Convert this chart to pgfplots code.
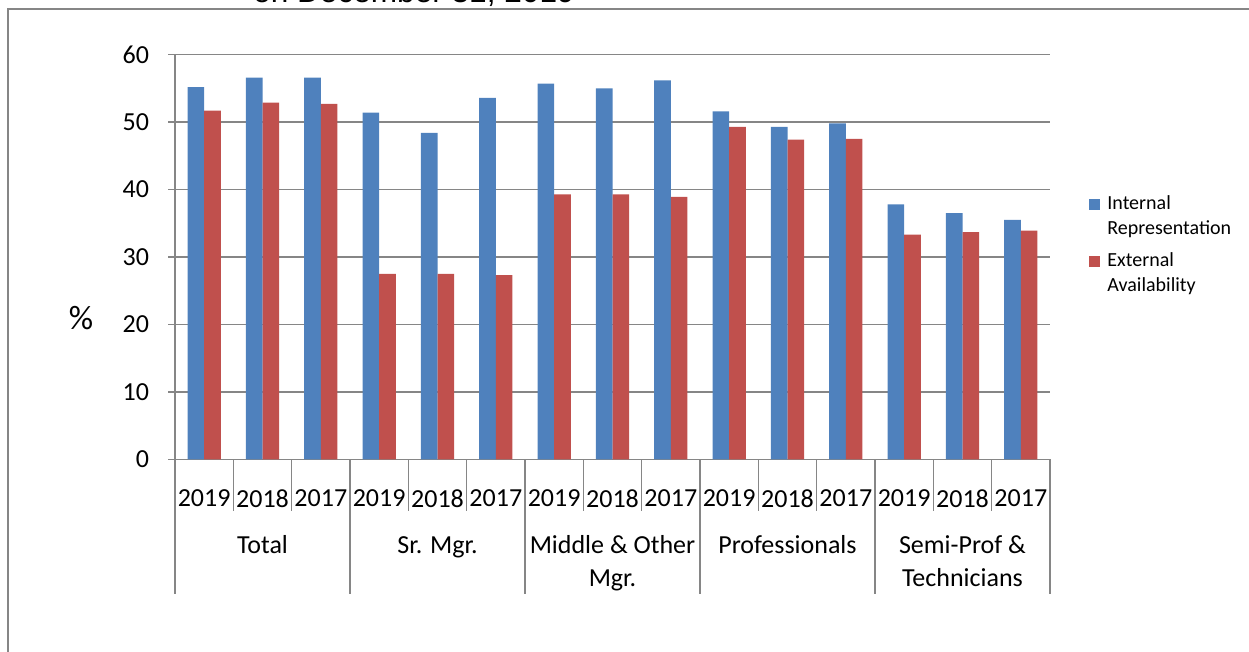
\documentclass[border=0pt]{standalone}
\usepackage{fontspec}
\setmainfont{Carlito}
\newfontfamily\titlefont{Liberation Sans}
\usepackage{pgfplots}
\pgfplotsset{compat=1.18}
\definecolor{irblue}{HTML}{4F81BD}
\definecolor{eared}{HTML}{C0504D}
\definecolor{gridgray}{HTML}{868686}

\begin{document}
\begin{tikzpicture}
\useasboundingbox (0,0) rectangle (624.5pt,326pt);
\begin{scope}
\clip (0,0) rectangle (624.5pt,326pt);
% outer chart frame (partly outside the picture)
\draw[gridgray, line width=0.6pt] (4pt,-5pt) -- (4pt,321.5pt) -- (630pt,321.5pt);
% title, cut off at the top edge
\node[anchor=base, inner sep=0pt, font=\titlefont\fontsize{15.8}{18}\selectfont] at (207pt,324.5pt) {on December 31, 2019};
\end{scope}

\begin{axis}[
  at={(87.5pt,96.35pt)}, anchor=south west,
  scale only axis, width=437.5pt, height=202.3pt,
  xmin=-0.5, xmax=14.5, ymin=0, ymax=60,
  axis lines*=left,
  axis line style={gridgray, line width=0.75pt},
  ytick={0,10,...,60},
  ymajorgrids, grid style={gridgray, line width=0.75pt},
  ytick style={gridgray, line width=0.75pt},
  tick align=outside, major tick length=3.5pt,
  xtick={0,...,14}, xtick style={draw=none},
  xticklabels={2019,2018,2017,2019,2018,2017,2019,2018,2017,2019,2018,2017,2019,2018,2017},
  tick label style={font=\fontsize{13}{15}\selectfont},
  /pgf/number format/assume math mode=true,
  xticklabel style={yshift=-8pt},
  yticklabel style={xshift=-6pt},
  ybar=0pt, bar width=8.33pt,
]
% Internal Representation
\addplot[fill=irblue, draw=none] coordinates {
  (0,55.2) (1,56.6) (2,56.6)
  (3,51.4) (4,48.4) (5,53.6)
  (6,55.7) (7,55.0) (8,56.2)
  (9,51.6) (10,49.3) (11,49.8)
  (12,37.8) (13,36.5) (14,35.5)
};
% External Availability
\addplot[fill=eared, draw=none] coordinates {
  (0,51.7) (1,52.9) (2,52.7)
  (3,27.5) (4,27.5) (5,27.3)
  (6,39.3) (7,39.3) (8,38.9)
  (9,49.3) (10,47.4) (11,47.5)
  (12,33.3) (13,33.7) (14,33.9)
};
\end{axis}

% category separators
\foreach \i in {1,2,4,5,7,8,10,11,13,14}
  \draw[gridgray, line width=0.75pt] ({(87.5+\i*29.16667)*1pt},96.35pt) -- ++(0,-26pt);
\foreach \i in {0,3,6,9,12,15}
  \draw[gridgray, line width=0.75pt] ({(87.5+\i*29.16667)*1pt},96.35pt) -- ++(0,-67.5pt);

% group labels
\begin{scope}[every node/.style={anchor=base, inner sep=0pt, font=\fontsize{13}{15}\selectfont}]
\node at (131.25pt,49pt) {Total};
\node at (218.75pt,49pt) {Sr. Mgr.};
\node at (306.25pt,49pt) {Middle \& Other};
\node at (306.25pt,32.5pt) {Mgr.};
\node at (393.75pt,49pt) {Professionals};
\node at (481.25pt,49pt) {Semi-Prof \&};
\node at (481.25pt,32.5pt) {Technicians};
\end{scope}

% y label
\node[font=\fontsize{17}{19}\selectfont] at (40.5pt,167pt) {\%};

% legend
\fill[irblue] (544.5pt,221pt) rectangle (550pt,226.5pt);
\fill[eared] (544.5pt,192.5pt) rectangle (550pt,198pt);
\begin{scope}[every node/.style={anchor=base west, inner sep=0pt, font=\fontsize{10}{12}\selectfont}]
\node at (553.5pt,221pt) {Internal};
\node at (553.5pt,208.5pt) {Representation};
\node at (553.5pt,192.5pt) {External};
\node at (553.5pt,180pt) {Availability};
\end{scope}
\end{tikzpicture}
\end{document}
